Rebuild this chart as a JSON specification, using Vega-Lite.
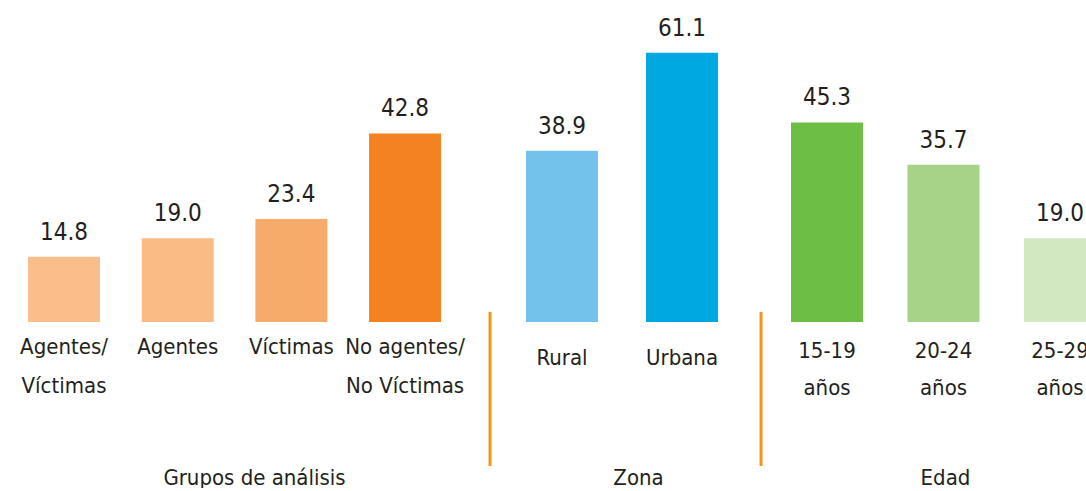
{
  "$schema": "https://vega.github.io/schema/vega-lite/v6.json",
  "padding": 0,
  "background": "white",
  "spacing": 0,
  "bounds": "flush",
  "config": {
    "view": {"stroke": null},
    "font": "DejaVu Sans Condensed, Liberation Sans, sans-serif",
    "axis": {"labelFont": "DejaVu Sans Condensed, Liberation Sans, sans-serif", "titleFont": "DejaVu Sans Condensed, Liberation Sans, sans-serif"}
  },
  "datasets": {
    "grupos": [
      {"cat": "Agentes/Víctimas", "val": 14.8},
      {"cat": "Agentes", "val": 19.0},
      {"cat": "Víctimas", "val": 23.4},
      {"cat": "No agentes/No Víctimas", "val": 42.8}
    ],
    "zona": [
      {"cat": "Rural", "val": 38.9},
      {"cat": "Urbana", "val": 61.1}
    ],
    "edad": [
      {"cat": "15-19 años", "val": 45.3},
      {"cat": "20-24 años", "val": 35.7},
      {"cat": "25-29 años", "val": 19.0}
    ],
    "sep": [
      {"cat": "Rural", "top": 2.3, "bottom": -32.7, "side": "left"},
      {"cat": "Urbana", "top": 2.3, "bottom": -32.7, "side": "right"}
    ]
  },
  "hconcat": [
    {
      "width": 490,
      "height": 322,
      "data": {"name": "grupos"},
      "encoding": {
        "x": {
          "field": "cat", "type": "nominal", "sort": null,
          "scale": {"paddingInner": 0.367, "paddingOuter": 0.3385, "align": 0.364},
          "axis": {
            "title": "Grupos de análisis", "domain": false, "ticks": false,
            "labelAngle": 0, "labelFontSize": 22, "labelColor": "#231f20",
            "labelLineHeight": 39, "labelPadding": 14, "labelBaseline": "top",
            "labelExpr": "indexof(datum.label,'/')>=0 ? [slice(datum.label,0,indexof(datum.label,'/')+1), slice(datum.label,indexof(datum.label,'/')+1)] : split(datum.label,' ')",
            "titleFontSize": 22, "titleFontWeight": "normal", "titleColor": "#231f20",
            "titleBaseline": "alphabetic", "titleY": 162, "titleX": 254, "titleAlign": "center"
          }
        },
        "y": {"field": "val", "type": "quantitative", "scale": {"domain": [0, 73.1]}, "axis": null}
      },
      "layer": [
        {
          "mark": {"type": "bar", "width": {"band": 1}},
          "encoding": {
            "color": {
              "field": "cat", "type": "nominal", "legend": null,
              "scale": {"domain": ["Agentes/Víctimas", "Agentes", "Víctimas", "No agentes/No Víctimas"],
                        "range": ["#fbbd89", "#fabb85", "#f7ab6b", "#f58220"]}
            }
          }
        },
        {
          "mark": {"type": "text", "dy": -17, "baseline": "alphabetic", "fontSize": 24, "color": "#231f20"},
          "encoding": {"text": {"field": "val", "type": "quantitative", "format": ".1f"}}
        }
      ]
    },
    {
      "width": 271,
      "height": 322,
      "encoding": {
        "x": {
          "field": "cat", "type": "nominal", "sort": null,
          "scale": {"domain": ["Rural", "Urbana"], "paddingInner": 0.4, "paddingOuter": 0.329, "align": 0.456},
          "axis": {
            "title": "Zona", "domain": false, "ticks": false,
            "labelAngle": 0, "labelFontSize": 22, "labelColor": "#231f20",
            "labelLineHeight": 38, "labelPadding": 25, "labelBaseline": "top",
            "titleFontSize": 22, "titleFontWeight": "normal", "titleColor": "#231f20",
            "titleBaseline": "alphabetic", "titleY": 162, "titleX": 148, "titleAlign": "center"
          }
        },
        "y": {"type": "quantitative", "scale": {"domain": [0, 73.1]}, "axis": null}
      },
      "layer": [
        {
          "data": {"name": "zona"},
          "mark": {"type": "bar", "width": {"band": 1}},
          "encoding": {
            "y": {"field": "val", "type": "quantitative"},
            "color": {
              "field": "cat", "type": "nominal", "legend": null,
              "scale": {"domain": ["Rural", "Urbana"], "range": ["#73c2ec", "#00a8e1"]}
            }
          }
        },
        {
          "data": {"name": "zona"},
          "mark": {"type": "text", "dy": -17, "baseline": "alphabetic", "fontSize": 24, "color": "#231f20"},
          "encoding": {
            "y": {"field": "val", "type": "quantitative"},
            "text": {"field": "val", "type": "quantitative", "format": ".1f"}
          }
        },
        {
          "data": {"name": "sep"},
          "transform": [{"filter": "datum.side == 'left'"}],
          "mark": {"type": "rule", "color": "#f7941d", "strokeWidth": 3},
          "encoding": {
            "x": {"field": "cat", "type": "nominal", "bandPosition": -0.5},
            "y": {"field": "top", "type": "quantitative"},
            "y2": {"field": "bottom"}
          }
        },
        {
          "data": {"name": "sep"},
          "transform": [{"filter": "datum.side == 'right'"}],
          "mark": {"type": "rule", "color": "#f7941d", "strokeWidth": 3},
          "encoding": {
            "x": {"field": "cat", "type": "nominal", "bandPosition": 1.597},
            "y": {"field": "top", "type": "quantitative"},
            "y2": {"field": "bottom"}
          }
        }
      ]
    },
    {
      "width": 325,
      "height": 322,
      "data": {"name": "edad"},
      "encoding": {
        "x": {
          "field": "cat", "type": "nominal", "sort": null,
          "scale": {"range": [0, 365], "paddingInner": 0.382, "paddingOuter": 0.2575},
          "axis": {
            "title": "Edad", "domain": false, "ticks": false,
            "labelAngle": 0, "labelFontSize": 22, "labelColor": "#231f20",
            "labelLineHeight": 37, "labelPadding": 18, "labelBaseline": "top",
            "labelExpr": "split(datum.label,' ')",
            "titleFontSize": 22, "titleFontWeight": "normal", "titleColor": "#231f20",
            "titleBaseline": "alphabetic", "titleY": 162, "titleX": 184, "titleAlign": "center"
          }
        },
        "y": {"field": "val", "type": "quantitative", "scale": {"domain": [0, 73.1]}, "axis": null}
      },
      "layer": [
        {
          "mark": {"type": "bar", "width": {"band": 1}, "clip": true},
          "encoding": {
            "color": {
              "field": "cat", "type": "nominal", "legend": null,
              "scale": {"domain": ["15-19 años", "20-24 años", "25-29 años"], "range": ["#6cbe45", "#a6d388", "#d2e8c1"]}
            }
          }
        },
        {
          "mark": {"type": "text", "dy": -17, "baseline": "alphabetic", "fontSize": 24, "color": "#231f20"},
          "encoding": {"text": {"field": "val", "type": "quantitative", "format": ".1f"}}
        }
      ]
    }
  ],
  "resolve": {"scale": {"color": "independent", "x": "independent"}}
}
